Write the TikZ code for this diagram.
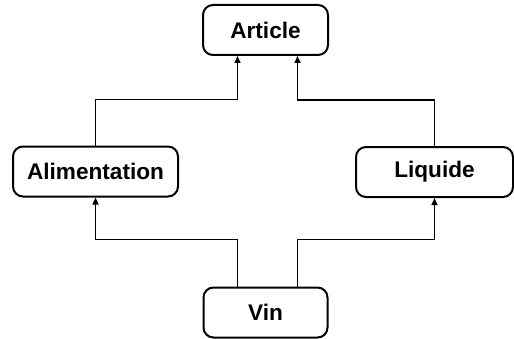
\documentclass[tikz,border=0pt]{standalone}
\usepackage{fontspec}
\setmainfont{Liberation Sans}
\usetikzlibrary{positioning,arrows.meta}
\tikzstyle{Clase}=[rectangle, rounded corners=5pt, draw=black, fill=white, line width=1pt, minimum height=25pt, inner sep=0pt, font=\fontsize{11.3}{13}\selectfont\bfseries]
\tikzstyle{Herencia}=[-{Triangle[length=3.5pt,width=3pt]}, line width=0.75pt]

\begin{document}
\begin{tikzpicture}[on grid]
			\useasboundingbox (0,0) rectangle (257pt,169pt);
			%Cajas
			\node[Clase, minimum width=62.5pt]	(article)		at (132.75pt,154pt)				{Article};
			\node[Clase, minimum width=82.5pt]	(alimentation)	[below left=70.75pt and 85pt of article]	{Alimentation};
			\node[Clase, minimum width=78.5pt]	(liquide)		[below right=71pt and 84.5pt of article]	{Liquide};
			\node[Clase, minimum width=62pt]	(vin)			[below=141.25pt of article]		{Vin};

			%Conectores
			\draw[Herencia] ([xshift=-14pt]vin.north) -- ++(0,23.5pt) -| (alimentation.south);
			\draw[Herencia] ([xshift=16pt]vin.north) -- ++(0,23.5pt) -| (liquide.south);
			\draw[Herencia] (alimentation.north) -- ++(0,23pt) -| ([xshift=-14pt]article.south);
			\draw[Herencia] (liquide.north) -- ++(0,23pt) -| ([xshift=16pt]article.south);

\end{tikzpicture}
\end{document}
